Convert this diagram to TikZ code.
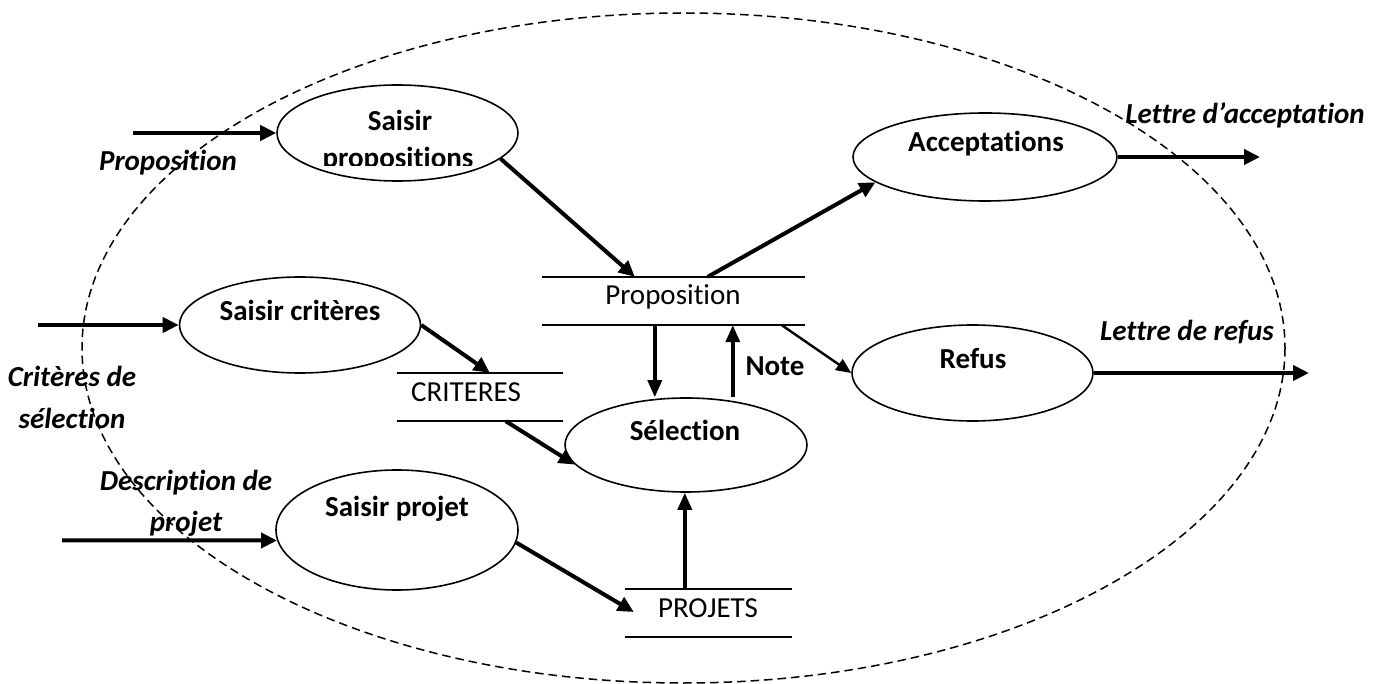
\documentclass[tikz,border=0pt]{standalone}
\usepackage{fontspec}
\setmainfont{Carlito}[Ligatures=NoCommon]
\usetikzlibrary{arrows.meta,calc,shapes.geometric}
\begin{document}
\begin{tikzpicture}[x=1pt,y=-1pt,
  lbl/.style={inner sep=0pt, font=\fontsize{29}{34}\selectfont},
  boldlbl/.style={lbl, font=\fontsize{29}{34}\selectfont\bfseries},
  flowlbl/.style={lbl, font=\fontsize{29}{34}\selectfont\bfseries\itshape},
  proc/.style={draw, ellipse, line width=1.6pt, inner sep=0pt},
  store/.style={inner sep=0pt, minimum height=48pt},
  storeline/.style={line width=1.6pt},
  flow/.style={line width=4pt, -{Triangle[length=16pt,width=15pt]}},
  vflow/.style={line width=3.5pt, -{Triangle[length=17pt,width=14pt]}},
  thinflow/.style={line width=2.4pt, -{Triangle[length=15pt,width=13pt]}},
  boundary/.style={line width=1.5pt, dash pattern=on 8.5pt off 5pt}
]
\useasboundingbox (0,0) rectangle (1385,684);

% system boundary
\draw[boundary] (683.5,348) ellipse [x radius=601.5, y radius=335];

% processes
\node[proc, minimum width=241pt, minimum height=96pt] (sp)  at (397.5,133) {};
\node[proc, minimum width=241pt, minimum height=96pt] (sc)  at (300,325) {};
\node[proc, minimum width=242pt, minimum height=120pt] (spj) at (397,530) {};
\node[proc, minimum width=264pt, minimum height=88pt] (acc) at (985,157) {};
\node[proc, minimum width=241pt, minimum height=96pt] (ref) at (972.5,373) {};
\node[proc, minimum width=242pt, minimum height=94pt] (sel) at (686,445) {};

\node[boldlbl, anchor=base] (tsp1) at (400,131) {Saisir};
\begin{scope}
  \clip (0,0) rectangle (1385,166);
  \node[boldlbl, anchor=base] (tsp2) at (398,168) {propositions};
\end{scope}
\node[boldlbl, anchor=base] (tsc)  at (300,321) {Saisir critères};
\node[boldlbl, anchor=base] (tspj) at (397,516) {Saisir projet};
\node[boldlbl, anchor=base] (tacc) at (986,152) {Acceptations};
\node[boldlbl, anchor=base] (tref) at (973,369) {Refus};
\node[boldlbl, anchor=base] (tsel) at (685,441) {Sélection};

% data stores
\node[store, minimum width=263pt] (ps) at (673.5,301) {};
\node[store, minimum width=166pt] (cr) at (480,397) {};
\node[store, minimum width=167pt] (pj) at (708.5,613) {};
\foreach \s in {ps,cr,pj}{
  \draw[storeline] (\s.north west) -- (\s.north east);
  \draw[storeline] (\s.south west) -- (\s.south east);
}
\node[lbl, anchor=base] (tps) at (673,305) {Proposition};
\node[lbl, anchor=base] (tcr) at (466,402) {CRITERES};
\node[lbl, anchor=base] (tpj) at (708,617) {PROJETS};

% external flows
\coordinate (inP) at (133,133);
\coordinate (inC) at (38,325);
\coordinate (inD) at (62,540.4);
\coordinate (outA) at (1260,157);
\coordinate (outR) at (1309,373);

\draw[flow] (inP) -- (sp.west);
\draw[flow] (inC) -- (sc.west);
\draw[flow] (inD) -- (spj.185);
\draw[flow] (acc.east) -- (outA);
\draw[flow] (ref.east) -- (outR);

% two-line labels: the base anchor sits on the last line
\node[flowlbl, anchor=base] (lP) at (168,171) {Proposition};
\node[flowlbl, anchor=base, align=center, font=\fontsize{29}{42}\selectfont\bfseries\itshape] (lC) at (72,429) {Critères de\\sélection};
\node[flowlbl, anchor=base, align=center, font=\fontsize{29}{41}\selectfont\bfseries\itshape] (lD) at (186,532) {Description de\\projet};
\node[flowlbl, anchor=base] (lA) at (1245,124) {Lettre d’acceptation};
\node[flowlbl, anchor=base] (lR) at (1187,341) {Lettre de refus};

% internal flows
\draw[flow] (sp.-14) -- ($(ps.north west)+(93,0)$);
\draw[flow] ($(ps.north west)+(166,0)$) -- (acc.193);
\draw[thinflow] ($(ps.south west)+(240,0)$) -- (ref.west);
\draw[flow] (sc.east) -- ($(cr.north west)+(93,0)$);
\draw[flow] ($(cr.south west)+(109,0)$) -- (sel.190);
\draw[flow] (spj.-6) -- ($(pj.west)+(9,-1)$);

\coordinate (d1) at ($(ps.south west)+(113,0)$);
\coordinate (u1) at ($(ps.south west)+(191,0)$);
\coordinate (u2) at ($(pj.north west)+(60,0)$);
\draw[vflow] (d1) -- (d1 |- sel.north);
\draw[vflow] (u1 |- sel.north) -- (u1);
\draw[vflow] (u2) -- (u2 |- sel.south);
\node[boldlbl, anchor=base] (lN) at (775,376) {Note};
\end{tikzpicture}
\end{document}
